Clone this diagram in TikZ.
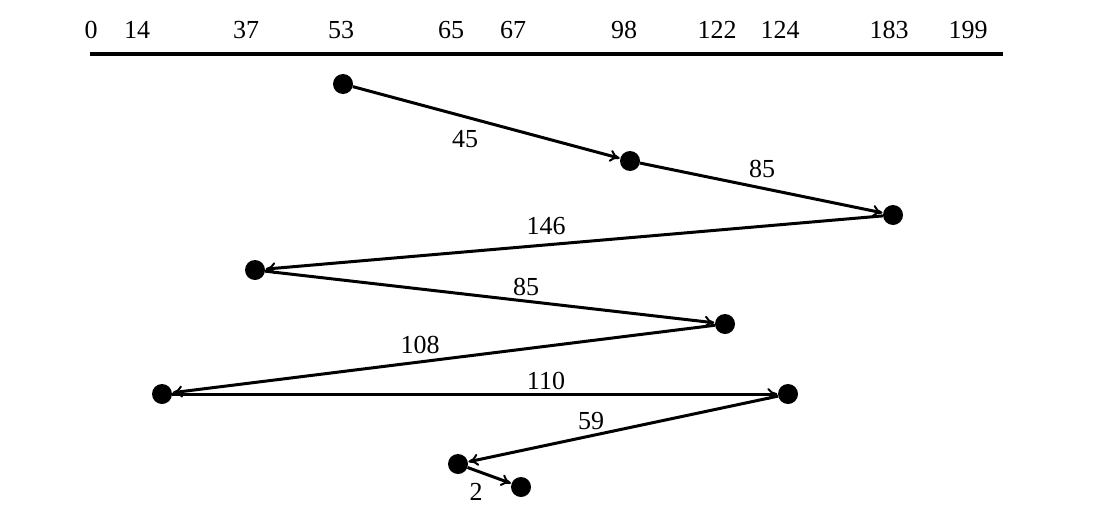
\documentclass[tikz,border=0pt]{standalone}
\usepackage{fontspec}
\setmainfont{Liberation Serif}
\usetikzlibrary{arrows.meta}
\begin{document}
\begin{tikzpicture}[x=1pt,y=-1pt,
  dot/.style={circle,fill=black,inner sep=0pt,minimum size=20pt},
  seg/.style={line width=3pt,-{To[length=10pt,width=12pt,line width=2pt]},shorten >=0.5pt},
  lbl/.style={font=\fontsize{26}{28}\selectfont,inner sep=0pt},
  tick/.style={font=\fontsize{26}{28}\selectfont,inner sep=0pt}]
\useasboundingbox (0,0) rectangle (1094,530);
% axis
\coordinate (axL) at (90,54);
\coordinate (axR) at (1003,54);
\draw[line width=3.5pt] (axL) -- (axR);
\node[tick] (t0) at (91,30) {0};
\node[tick] (t14) at (137,30) {14};
\node[tick] (t37) at (246,30) {37};
\node[tick] (t53) at (341,30) {53};
\node[tick] (t65) at (451,30) {65};
\node[tick] (t67) at (513,30) {67};
\node[tick] (t98) at (624,30) {98};
\node[tick] (t122) at (717,30) {122};
\node[tick] (t124) at (780,30) {124};
\node[tick] (t183) at (889,30) {183};
\node[tick] (t199) at (968,30) {199};
% points
\node[dot] (p53) at (343,84) {};
\node[dot] (p98) at (630,161) {};
\node[dot] (p183) at (893,215) {};
\node[dot] (p37) at (255,270) {};
\node[dot] (p122) at (725,324) {};
\node[dot] (p14) at (162,394) {};
\node[dot] (p124) at (788,394) {};
\node[dot] (p65) at (458,464) {};
\node[dot] (p67) at (521,487) {};
% connectors
\draw[seg] (p53) -- (p98);
\draw[seg] (p98) -- (p183);
\draw[seg] (p183) -- (p37);
\draw[seg] (p37) -- (p122);
\draw[seg] (p122) -- (p14);
\draw[seg] (p14) -- (p124);
\draw[seg] (p124) -- (p65);
\draw[seg] (p65) -- (p67);
% labels
\node[lbl] (l1) at (465,139) {45};
\node[lbl] (l2) at (762,169) {85};
\node[lbl] (l3) at (546,226) {146};
\node[lbl] (l4) at (526,287) {85};
\node[lbl] (l5) at (420,345) {108};
\node[lbl] (l6) at (546,381) {110};
\node[lbl] (l7) at (591,421) {59};
\node[lbl] (l8) at (476,492) {2};
\end{tikzpicture}
\end{document}
